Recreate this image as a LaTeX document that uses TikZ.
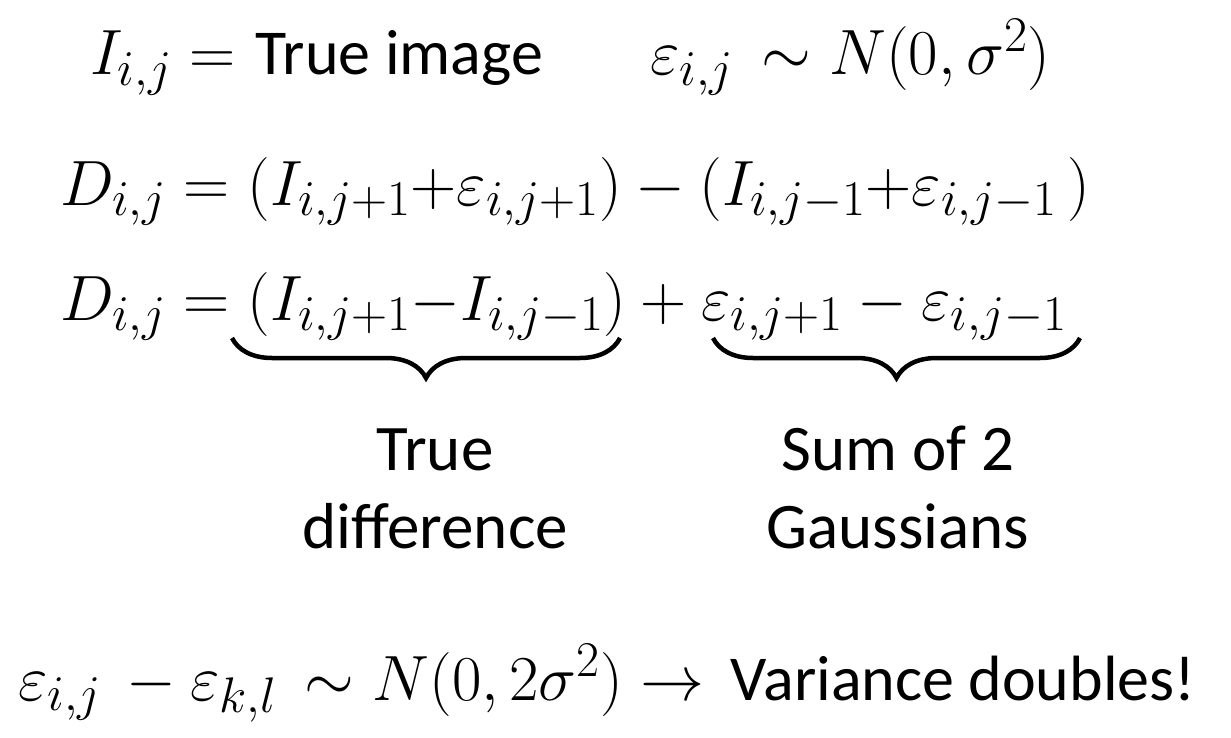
\RequirePackage{fix-cm}
\documentclass[tikz,border=0pt]{standalone}
\usepackage[no-math]{fontspec}
\setmainfont{Carlito}
\DeclareMathSizes{64}{64}{50}{40}
\usetikzlibrary{decorations.pathreplacing}
\begin{document}
\begin{tikzpicture}[x=1pt,y=-1pt,
  eq/.style={anchor=base west,inner sep=0pt,font=\fontsize{64}{76}\selectfont},
  lbl/.style={anchor=base,inner sep=0pt,font=\fontsize{65}{76}\selectfont},
  brc/.style={decorate,decoration={brace,mirror,amplitude=40pt},line width=4.5pt}]
\useasboundingbox (0,0) rectangle (1231,738);
\node[eq] (l1a) at (90,75) {$I_{i,j} =$\hspace{20pt}True image};
\node[eq] (l1b) at (650,75) {$\varepsilon_{i,j}\,\sim N(0,\sigma^2)$};
\node[eq] (l2) at (60,205) {$D_{i,j} = (I_{i,j+1}{+}\varepsilon_{i,j+1}) - (I_{i,j-1}{+}\varepsilon_{i,j-1}\,)$};
\node[eq] (l3) at (60,320) {$D_{i,j} = (I_{i,j+1}{-}I_{i,j-1}) + \varepsilon_{i,j+1} - \varepsilon_{i,j-1}$};
\coordinate (b1s) at (232,338);
\coordinate (b1e) at (620,338);
\coordinate (b2s) at (713,338);
\coordinate (b2e) at (1080,338);
\draw[brc] (b1s) -- (b1e);
\draw[brc] (b2s) -- (b2e);
\node[lbl] (t1) at (435,470) {True};
\node[lbl] (t2) at (435,548) {difference};
\node[lbl] (s1) at (898,470) {Sum of 2};
\node[lbl] (s2) at (898,548) {Gaussians};
\node[eq] (l4) at (18,700) {$\varepsilon_{i,j}\,-\varepsilon_{k,l}\,\sim N(0,2\sigma^2)\rightarrow$\hspace{26pt}Variance doubles!};
\end{tikzpicture}
\end{document}
